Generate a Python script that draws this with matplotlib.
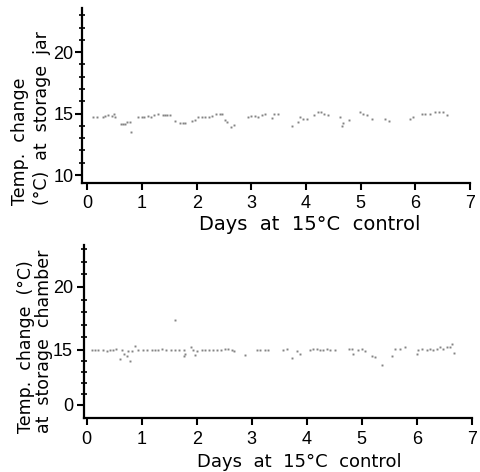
import numpy as np
import matplotlib
matplotlib.use("Agg")
import matplotlib.pyplot as plt
from matplotlib.ticker import FixedLocator

plt.rcParams['font.family'] = ['Liberation Sans', 'DejaVu Sans']

# --- storage jar readings (days, °C) ---
jar_days = [0.10, 0.17, 0.29, 0.33, 0.38, 0.44, 0.49, 0.51,
            0.61, 0.65, 0.68, 0.73, 0.77, 0.79,
            0.93, 0.99, 1.04, 1.11, 1.17, 1.22, 1.29,
            1.38, 1.42, 1.46, 1.51,
            1.60, 1.69, 1.75, 1.79, 1.92, 1.97,
            2.03, 2.09, 2.15, 2.22, 2.28,
            2.36, 2.42, 2.47, 2.51, 2.55, 2.62, 2.68,
            2.93, 3.00, 3.06, 3.12, 3.19, 3.25, 3.37, 3.42, 3.49,
            3.74, 3.85, 3.89, 3.95, 4.01,
            4.15, 4.21, 4.27, 4.33, 4.41,
            4.62, 4.65, 4.68, 4.79,
            4.99, 5.05, 5.11, 5.20,
            5.45, 5.51, 5.90, 5.96,
            6.12, 6.18, 6.27, 6.36, 6.43, 6.51, 6.57]
jar_temp = [14.76, 14.76, 14.76, 14.8, 14.85, 14.8, 14.95, 14.7,
            14.13, 14.13, 14.13, 14.3, 14.35, 13.5,
            14.7, 14.75, 14.7, 14.8, 14.7, 14.85, 14.95,
            14.85, 14.85, 14.85, 14.85,
            14.4, 14.2, 14.2, 14.2, 14.4, 14.5,
            14.75, 14.75, 14.75, 14.75, 14.8,
            15.0, 15.0, 14.95, 14.5, 14.35, 13.9, 14.1,
            14.76, 14.84, 14.8, 14.76, 14.9, 14.95, 14.67, 15.0, 15.0,
            14.0, 14.3, 14.76, 14.6, 14.6,
            14.9, 15.1, 15.1, 15.0, 14.9,
            14.76, 14.0, 14.2, 14.5,
            15.1, 15.0, 14.9, 14.6,
            14.55, 14.4, 14.6, 14.75,
            14.95, 14.95, 15.0, 15.1, 15.15, 15.1, 14.9]

# --- storage chamber readings (days, °C) ---
ch_days = [0.09, 0.15, 0.21,
           0.30, 0.36, 0.42, 0.48, 0.53,
           0.61, 0.64, 0.68, 0.73, 0.75,
           0.79, 0.82, 0.87,
           0.94, 1.03, 1.09, 1.18, 1.24, 1.30,
           1.36, 1.45, 1.53, 1.61, 1.67, 1.76,
           1.79, 1.77, 1.60,
           1.90, 1.94, 1.97, 2.00,
           2.09, 2.15, 2.22, 2.30, 2.36, 2.45,
           2.51, 2.56, 2.64, 2.68, 2.87,
           3.09, 3.15, 3.24, 3.30,
           3.57, 3.64, 3.73, 3.82, 3.88,
           4.06, 4.12, 4.18, 4.24, 4.30, 4.36, 4.42, 4.51,
           4.76, 4.83, 4.85, 4.94, 5.01, 5.06,
           5.18, 5.24, 5.36, 5.55,
           5.61, 5.70, 5.79,
           6.00, 6.03, 6.09, 6.18, 6.24, 6.30, 6.36,
           6.42, 6.48, 6.55, 6.61, 6.64, 6.67]
ch_temp = [15.0, 15.0, 15.0,
           15.0, 14.9, 15.0, 15.0, 15.1,
           14.3, 15.0, 14.7, 14.5, 14.9,
           14.1, 14.9, 15.3,
           15.0, 15.0, 15.0, 15.0, 15.0, 15.0,
           15.1, 15.0, 15.0, 15.0, 15.0, 15.0,
           14.7, 14.5, 17.4,
           15.2, 15.0, 14.6, 14.9,
           15.0, 15.0, 15.0, 15.0, 15.0, 15.0,
           15.1, 15.1, 15.0, 14.9, 14.6,
           15.0, 15.0, 15.0, 15.0,
           15.0, 15.1, 14.4, 14.9, 14.65,
           15.0, 15.1, 15.1, 15.0, 15.0, 15.1, 15.0, 15.0,
           15.1, 15.1, 14.65, 15.0, 15.1, 14.9,
           14.55, 14.45, 13.8, 14.5,
           15.1, 15.1, 15.2,
           14.7, 15.0, 15.1, 15.0, 15.1, 15.0, 15.1,
           15.2, 15.1, 15.2, 15.2, 15.5, 14.8]

day_ticks = [0, 1, 2, 3, 4, 5, 6, 7]
jar_yticks = [10, 15, 20]
ch_yticks = [0, 15, 20]

# chamber axis is broken below 12 degC (compressed)
BRK, K = 12.0, 0.1137


def fwd(v):
    v = np.asarray(v, dtype=float)
    return np.where(v >= BRK, v, BRK - (BRK - v) * K)


def inv(u):
    u = np.asarray(u, dtype=float)
    return np.where(u >= BRK, u, BRK - (BRK - u) / K)


fig = plt.figure(figsize=(4.81, 4.72), dpi=100)
W, H = 481.0, 472.0
ax1 = fig.add_axes([82 / W, 1 - 183 / H, (470 - 82) / W, (183 - 8) / H])
ax2 = fig.add_axes([84 / W, 1 - 418 / H, (471.7 - 84) / W, (418 - 245) / H])

dot = dict(marker='s', ls='none', ms=1.4, color='#333333', alpha=0.6, mew=0)
ax1.plot(jar_days, jar_temp, **dot)
ax2.set_yscale('function', functions=(fwd, inv))
ax2.plot(ch_days, ch_temp, **dot)

ax1.set_xlim(-0.1, 7.0)
ax1.set_ylim(9.35, 23.6)
ax1.set_yticks(jar_yticks)
ax1.yaxis.set_minor_locator(FixedLocator(np.arange(10, 24, 1)))

ax2.set_xlim(-0.05, 7.0)
ax2.set_ylim(float(inv(9.603)), 23.33)
ax2.set_yticks(ch_yticks)
u_minor = np.concatenate([15 - np.arange(1, 6) * (15 - float(fwd(0))) / 5,
                          np.arange(16, 24, 1)])
ax2.yaxis.set_minor_locator(FixedLocator(inv(u_minor)))

for ax in (ax1, ax2):
    ax.set_xticks(day_ticks)
    for s in ('top', 'right'):
        ax.spines[s].set_visible(False)
    for s in ('left', 'bottom'):
        ax.spines[s].set_linewidth(1.6)
    ax.tick_params(axis='both', which='major', direction='out', length=5,
                   width=1.5, labelsize=13, pad=2)
    ax.tick_params(axis='x', which='major', pad=4)
    ax.tick_params(axis='y', which='minor', direction='inout', length=4, width=1.2)
    ax.tick_params(axis='x', which='minor', length=0)

ax1.tick_params(axis='y', pad=1)
ax2.tick_params(axis='y', pad=3)

lab = dict(family='DejaVu Sans', fontsize=12.5)
fig.text(31 / W, 1 - 205 / H, "Temp.  change\n(°C)  at  storage  jar", rotation=90,
         ha='center', va='bottom', multialignment='left', linespacing=1.25, **lab)
fig.text(310 / W, 1 - 225 / H, "Days  at  15°C  control", ha='center',
         va='center', family='DejaVu Sans', fontsize=14)

fig.text(35 / W, 1 - 433 / H, "Temp.  change  (°C)\nat  storage  chamber", rotation=90,
         ha='center', va='bottom', multialignment='left', linespacing=1.0, **lab)
fig.text(299 / W, 1 - 462 / H, "Days  at  15°C  control", ha='center',
         va='center', family='DejaVu Sans', fontsize=13)

fig.savefig("out.png", dpi=100)
